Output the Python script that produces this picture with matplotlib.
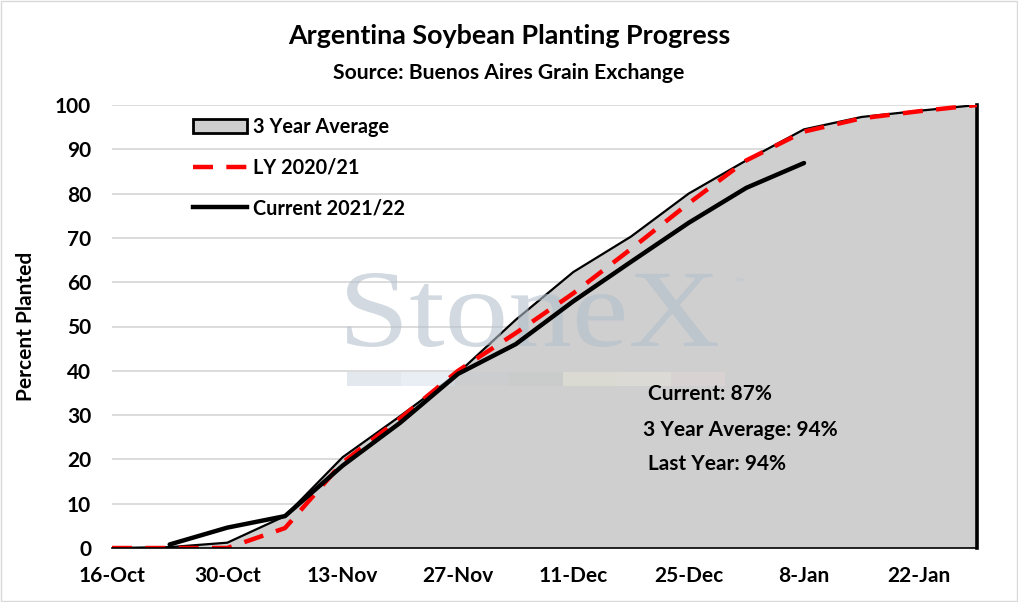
import pandas as pd
import matplotlib.pyplot as plt
import matplotlib.dates as mdates
from matplotlib.patches import Rectangle, Patch, PathPatch
from matplotlib.lines import Line2D
from matplotlib.textpath import TextPath
from matplotlib.font_manager import FontProperties
from matplotlib.transforms import Affine2D, IdentityTransform

#%% Data
dates = pd.date_range('2021-10-16', '2022-01-29', freq='7D')
three_yr = [0, 0.2, 1.2, 7.2, 20.5, 29.8, 39.5, 51.5, 62.3, 70.3, 80.0, 87.5, 94.5, 97.3, 98.7, 100]
ly = [0, 0, 0, 4.5, 19.3, 29.3, 40.0, 48.5, 57.5, 67.5, 77.8, 87.5, 94.0, 97.0, 98.6, 100]
cur_dates = pd.date_range('2021-10-23', '2022-01-08', freq='7D')
current = [0.8, 4.6, 7.2, 18.6, 28.3, 39.3, 46.0, 55.7, 64.6, 73.4, 81.3, 86.9]

tick_dates = pd.date_range('2021-10-16', '2022-01-22', freq='14D')
yticks = list(range(0, 101, 10))

notes = ['Current: 87%', '3 Year Average: 94%', 'Last Year: 94%']

#%% Plot
plt.rcParams['font.family'] = ['Lato', 'DejaVu Sans']
plt.rcParams['font.weight'] = 'bold'
plt.rcParams['axes.labelweight'] = 'bold'

fig = plt.figure(figsize=(10.18, 6.02), dpi=100)
ax = fig.add_axes([112/1018, 1 - 548/602, (977 - 112)/1018, (548 - 105)/602])

ax.fill_between(dates, three_yr, 0, facecolor='#cfcfcf', edgecolor='none', zorder=1)
ax.plot(dates, three_yr, color='black', lw=1.6, zorder=1.2)
ax.plot([dates[-1], dates[-1]], [three_yr[-1], 0], color='black', lw=2.6, zorder=1.2,
        clip_on=False)

# StoneX watermark (text path stretched to the logo's box, in pixels)
tp = TextPath((0, 0), 'StoneX', size=1,
              prop=FontProperties(family='Liberation Serif', weight='normal'))
ext = tp.get_extents()
wm_tr = (Affine2D().translate(-ext.x0, -ext.y0)
         .scale(371/ext.width, 74/ext.height).translate(347, 602 - 347))
wm = PathPatch(wm_tr.transform_path(tp), transform=IdentityTransform(),
               facecolor='#b4c0cc', edgecolor='none', alpha=0.6, zorder=1.5)
ax.add_artist(wm)
ax.text(733/1018, 1 - 288/602, '™', transform=fig.transFigure, fontsize=9,
        family='DejaVu Sans', fontweight='normal', color='#b4c0cc', alpha=0.6,
        ha='left', va='baseline', zorder=1.5)
bar_cols = ['#c9d3de', '#d3dee9', '#c8ccd0', '#c4cbc8', '#e6e6d8', '#eae5da', '#e2d6d6']
for i, c in enumerate(bar_cols):
    ax.add_patch(Rectangle(((347 + i*54)/1018, 1 - 386/602), 54/1018, 14/602,
                           transform=fig.transFigure, facecolor=c, edgecolor='none',
                           alpha=0.5, zorder=1.5))

ax.plot(dates, ly, color='#ff0000', lw=3.2, ls=(0, (4.5, 3)), zorder=2)
ax.plot(cur_dates, current, color='black', lw=3.2, solid_capstyle='round', zorder=3)

ax.set_xlim(dates[0], dates[-1])
ax.set_ylim(0, 100)
ax.set_xticks(tick_dates)
ax.xaxis.set_major_formatter(mdates.DateFormatter('%-d-%b'))
ax.set_yticks(yticks)
ax.tick_params(axis='both', length=0, labelsize=15)
ax.tick_params(axis='x', pad=13)
ax.tick_params(axis='y', pad=15)
ax.grid(axis='y', color='#d9d9d9', lw=1.3, zorder=0)
ax.set_axisbelow(True)
for s in ['top', 'right', 'left']:
    ax.spines[s].set_visible(False)
ax.spines['bottom'].set_color('black')
ax.spines['bottom'].set_linewidth(1.2)
ax.spines['bottom'].set_zorder(4)

ax.set_ylabel('Percent Planted', fontsize=15)
ax.yaxis.set_label_coords((36 - 112)/865, 0.5)

fig.text(0.5, 1 - 36/602, 'Argentina Soybean Planting Progress', fontsize=19.4,
         fontweight='bold', ha='center', va='center')
fig.text(0.5, 1 - 73/602, 'Source: Buenos Aires Grain Exchange', fontsize=15.2,
         fontweight='bold', ha='center', va='center')

for txt, xp, yp in zip(notes, [648, 643, 648], [394, 430, 464]):
    fig.text(xp/1018, 1 - yp/602, txt, fontsize=15, fontweight='bold', ha='left', va='center')

handles = [Patch(facecolor='#cfcfcf', edgecolor='black', lw=2),
           Line2D([], [], color='#ff0000', lw=3.2, ls=(0, (4.5, 3))),
           Line2D([], [], color='black', lw=3.2)]
labels = ['3 Year Average', 'LY 2020/21', 'Current 2021/22']
ax.legend(handles, labels, loc='upper left', bbox_to_anchor=(175/1018, 1 - 99/602),
          bbox_transform=fig.transFigure, frameon=False, fontsize=14.3,
          handlelength=2.75, handleheight=0.75, handletextpad=0.3, labelspacing=1.05)

fig.add_artist(Rectangle((0.001, 0.001), 0.998, 0.997, transform=fig.transFigure,
                         facecolor='none', edgecolor='#d9d9d9', lw=1))

fig.savefig('out.png', dpi=100)
